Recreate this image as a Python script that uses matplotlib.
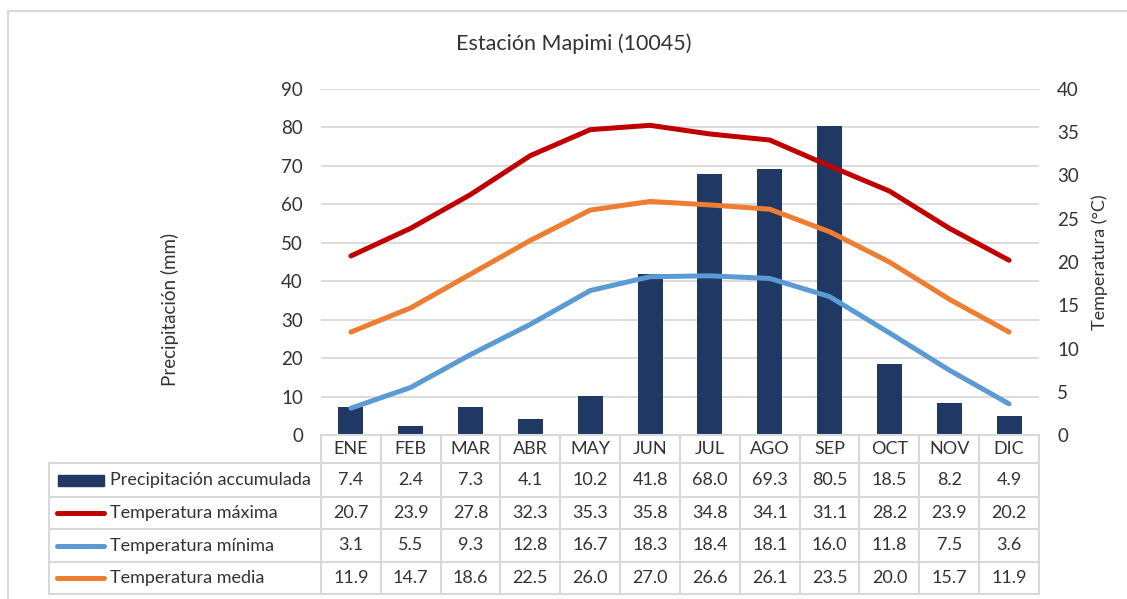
import matplotlib
matplotlib.use("Agg")
import matplotlib.pyplot as plt
from matplotlib.lines import Line2D
from matplotlib.patches import Rectangle

# Monthly climate normals, Mapimi station (10045)
months = ["ENE", "FEB", "MAR", "ABR", "MAY", "JUN", "JUL", "AGO", "SEP", "OCT", "NOV", "DIC"]
precip = [7.4, 2.4, 7.3, 4.1, 10.2, 41.8, 68.0, 69.3, 80.5, 18.5, 8.2, 4.9]
t_max = [20.7, 23.9, 27.8, 32.3, 35.3, 35.8, 34.8, 34.1, 31.1, 28.2, 23.9, 20.2]
t_min = [3.1, 5.5, 9.3, 12.8, 16.7, 18.3, 18.4, 18.1, 16.0, 11.8, 7.5, 3.6]
t_med = [11.9, 14.7, 18.6, 22.5, 26.0, 27.0, 26.6, 26.1, 23.5, 20.0, 15.7, 11.9]

series_names = ["Precipitación accumulada", "Temperatura máxima",
                "Temperatura mínima", "Temperatura media"]

C_BAR = "#203864"
C_MAX = "#C00000"
C_MIN = "#5B9BD5"
C_MED = "#ED7D31"
C_GRID = "#D9D9D9"
C_TEXT = "#333333"

plt.rcParams["font.family"] = ["Lato", "DejaVu Sans"]

W, H = 1127, 599
fig = plt.figure(figsize=(W / 100, H / 100), dpi=100)


def fx(px):
    return px / W


def fy(py):
    return 1 - py / H


# chart frame
fig.add_artist(Line2D([fx(8), fx(8)], [fy(11), fy(H + 5)], color=C_GRID, lw=1.5,
                      transform=fig.transFigure))
fig.add_artist(Line2D([fx(8), fx(W + 5)], [fy(11), fy(11)], color=C_GRID, lw=1.5,
                      transform=fig.transFigure))

left, right, top, bottom = 321, 1039, 89, 435
ax = fig.add_axes([fx(left), fy(bottom), fx(right - left), (bottom - top) / H])
ax2 = ax.twinx()

x = list(range(len(months)))
ax.bar(x, precip, width=0.42, color=C_BAR, zorder=2)
ax.set_xlim(-0.5, len(months) - 0.5)
ax.set_ylim(0, 90)
ax.set_yticks(range(0, 91, 10))
ax.yaxis.grid(True, color=C_GRID, lw=1.3, zorder=0)
ax.set_axisbelow(True)
ax.set_xticks([])

for vals, col in ((t_max, C_MAX), (t_min, C_MIN), (t_med, C_MED)):
    ax2.plot(x, vals, color=col, lw=3.6, solid_capstyle="round", solid_joinstyle="round")
ax2.set_ylim(0, 40)
ax2.set_yticks(range(0, 41, 5))

for a in (ax, ax2):
    for s in a.spines.values():
        s.set_visible(False)
    a.tick_params(length=0, labelsize=13.5, labelcolor=C_TEXT)
ax.tick_params(axis="y", pad=13)
ax2.tick_params(axis="y", pad=13)

fig.text(fx(574), fy(44), "Estación Mapimi (10045)", ha="center", va="center",
         fontsize=15.5, color=C_TEXT)
fig.text(fx(170), fy(309), "Precipitación (mm)", ha="center", va="center",
         rotation=90, fontsize=13.5, color=C_TEXT)
fig.text(fx(1100), fy(262), "Temperatura (°C)", ha="center", va="center",
         rotation=90, fontsize=13, color=C_TEXT)

# data table below the plot
fig.canvas.draw()
col_edges = [ax.transData.transform((i - 0.5, 0))[0] for i in range(len(months) + 1)]
row_edges = [435, 463, 497, 529, 562, 594]
tleft = 49


def hline(x0, x1, y):
    fig.add_artist(Line2D([fx(x0), fx(x1)], [fy(y), fy(y)], color=C_GRID, lw=1.5,
                          transform=fig.transFigure))


def vline(xp, y0, y1):
    fig.add_artist(Line2D([fx(xp), fx(xp)], [fy(y0), fy(y1)], color=C_GRID, lw=1.5,
                          transform=fig.transFigure))


hline(col_edges[0], col_edges[-1], row_edges[0])
for y in row_edges[1:]:
    hline(tleft, col_edges[-1], y)
for xe in col_edges:
    vline(xe, row_edges[0], row_edges[-1])
vline(tleft, row_edges[1], row_edges[-1])

fs = 13
for i, m in enumerate(months):
    cx = (col_edges[i] + col_edges[i + 1]) / 2
    fig.text(fx(cx), fy((row_edges[0] + row_edges[1]) / 2), m, ha="center", va="center",
             fontsize=fs, color=C_TEXT)

rows = [precip, t_max, t_min, t_med]
line_cols = [None, C_MAX, C_MIN, C_MED]
for r, (vals, name) in enumerate(zip(rows, series_names)):
    cy = (row_edges[r + 1] + row_edges[r + 2]) / 2
    if r == 0:
        fig.add_artist(Rectangle((fx(58), fy(cy + 5.5)), fx(104) - fx(58), 11 / H,
                                 color=C_BAR, transform=fig.transFigure))
    else:
        fig.add_artist(Line2D([fx(57), fx(104)], [fy(cy), fy(cy)], color=line_cols[r],
                              lw=3.6, solid_capstyle="round", transform=fig.transFigure))
    fig.text(fx(110), fy(cy), name, ha="left", va="center", fontsize=fs, color=C_TEXT)
    for i, v in enumerate(vals):
        cx = (col_edges[i] + col_edges[i + 1]) / 2
        fig.text(fx(cx), fy(cy), f"{v:.1f}", ha="center", va="center",
                 fontsize=fs, color=C_TEXT)

fig.savefig("out.png", dpi=100)
